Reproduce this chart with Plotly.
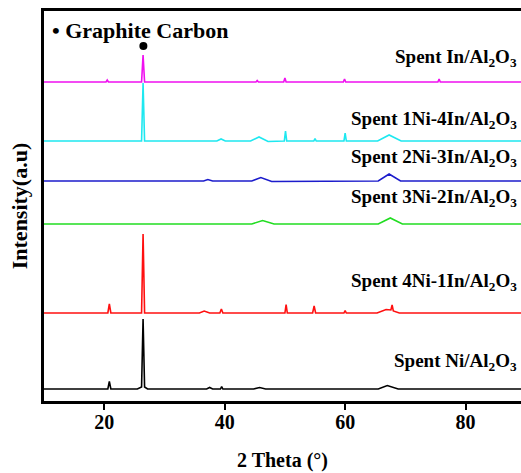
import plotly.graph_objects as go

# ---- data (2 theta in degrees, intensity in arbitrary units) ----
names = ["Spent Ni/Al<sub>2</sub>O<sub>3</sub>",
         "Spent 4Ni-1In/Al<sub>2</sub>O<sub>3</sub>",
         "Spent 3Ni-2In/Al<sub>2</sub>O<sub>3</sub>",
         "Spent 2Ni-3In/Al<sub>2</sub>O<sub>3</sub>",
         "Spent 1Ni-4In/Al<sub>2</sub>O<sub>3</sub>",
         "Spent In/Al<sub>2</sub>O<sub>3</sub>"]
colors = ["#000000", "#FF1010", "#22DD22", "#1C1CCC", "#1EE8F0", "#F010F0"]
offsets = [12, 88, 177, 220, 260, 319]

x_ni = [10, 20.6, 20.85, 21.1, 25.5, 26.2, 26.45, 26.7, 27.2, 37, 37.5, 38, 39.3, 39.5, 39.7,
        44.8, 45.8, 46.8, 60, 65.5, 67, 68.8, 89.2]
y_ni = [0, 0, 7.5, 0, 0, 2, 70, 2, 0, 0, 1.5, 0, 0, 2.5, 0,
        0, 1.5, 0, 0, 0, 3.5, 0, 0]

x_4ni1in = [10, 20.6, 20.85, 21.1, 26.2, 26.45, 26.7, 35.8, 36.6, 37.5, 39.2, 39.45, 39.7,
            50.0, 50.2, 50.4, 54.6, 54.85, 55.1, 59.8, 60.0, 60.2, 65.3, 66.8, 67.6, 67.8, 68.0, 69, 89.2]
y_4ni1in = [0, 0, 9, 0, 0, 79, 0, 0, 2, 0, 0, 4, 0,
            0, 8.5, 0, 0, 7, 0, 0, 2.5, 0, 0, 3.5, 3, 8, 2, 0, 0]

x_3ni2in = [10, 44.5, 46.3, 48.2, 65.5, 67.5, 69.5, 89.2]
y_3ni2in = [0, 0, 3.5, 0, 0, 6, 0, 0]

x_2ni3in = [10, 36.5, 37.2, 38, 44.5, 46.0, 47.8, 65.5, 67.3, 69.2, 89.2]
y_2ni3in = [0, 0, 1.5, 0, 0, 3.5, -0.5, 0, 7, 0, 0]

x_1ni4in = [10, 26.2, 26.45, 26.7, 38.7, 39.4, 40.1, 44.3, 45.7, 47.2, 49.9, 50.1, 50.3,
            54.8, 55.0, 55.2, 59.8, 60.0, 60.2, 65.4, 67.3, 69.3, 89.2]
y_1ni4in = [0, 0, 58, 0, 0, 2, 0, 0, 4, -0.5, 0, 10, 0,
            0, 2.5, 0, 0, 8, 0, 0, 6, 0, 0]

x_in = [10, 20.3, 20.5, 20.7, 26.2, 26.45, 26.7, 45.2, 45.4, 45.6, 49.8, 50.0, 50.2,
        59.7, 59.9, 60.1, 75.4, 75.6, 75.8, 89.2]
y_in = [0, 0, 2, 0, 0, 27, 0, 0, 1.5, 0, 0, 4, 0,
        0, 3, 0, 0, 3, 0, 0]

xs = [x_ni, x_4ni1in, x_3ni2in, x_2ni3in, x_1ni4in, x_in]
ys = [y_ni, y_4ni1in, y_3ni2in, y_2ni3in, y_1ni4in, y_in]

graphite_x = [26.5]
graphite_y = [355]
x_ticks = [20, 40, 60, 80]
label_y = [39, 119, 203, 243, 281, 343]

FONT = "Liberation Serif"

fig = go.Figure()
for x, y, c, off, n in zip(xs, ys, colors, offsets, names):
    fig.add_trace(go.Scatter(x=x, y=[v + off for v in y], mode="lines",
                             line=dict(color=c, width=1.6), name=n, showlegend=False))

fig.add_trace(go.Scatter(x=graphite_x, y=graphite_y, mode="markers",
                         marker=dict(color="black", size=8), showlegend=False))

for n, ly in zip(names, label_y):
    fig.add_annotation(x=0.995, xref="paper", y=ly, yref="y", text="<b>" + n + "</b>",
                       showarrow=False, xanchor="right", yanchor="middle",
                       font=dict(family=FONT, size=19, color="black"))

fig.add_annotation(x=0.013, xref="paper", y=371, yref="y", text="<b>• Graphite Carbon</b>",
                   showarrow=False, xanchor="left", yanchor="middle",
                   font=dict(family=FONT, size=22, color="black"))

fig.update_layout(
    width=521, height=473,
    margin=dict(l=44, r=0, t=11, b=72),
    plot_bgcolor="white", paper_bgcolor="white",
    font=dict(family=FONT, color="black"),
    xaxis=dict(range=[10, 89.2], tickvals=x_ticks, ticktext=["<b>%d</b>" % t for t in x_ticks],
               ticks="outside", ticklen=6, tickwidth=2, tickcolor="black",
               ticklabelstandoff=-5,
               showline=True, linewidth=2.5, linecolor="black", mirror=True,
               showgrid=False, zeroline=False,
               tickfont=dict(family=FONT, size=20, color="black"),
               title=dict(text="<b>2 Theta (°)</b>", font=dict(family=FONT, size=20, color="black"),
                          standoff=22)),
    yaxis=dict(range=[0, 390], showticklabels=False, ticks="",
               showline=True, linewidth=3, linecolor="black", mirror=False,
               showgrid=False, zeroline=False,
               title=dict(text="<b>Intensity(a.u)</b>", font=dict(family=FONT, size=22, color="black"),
                          standoff=8)),
)

fig.write_html("out.html")
